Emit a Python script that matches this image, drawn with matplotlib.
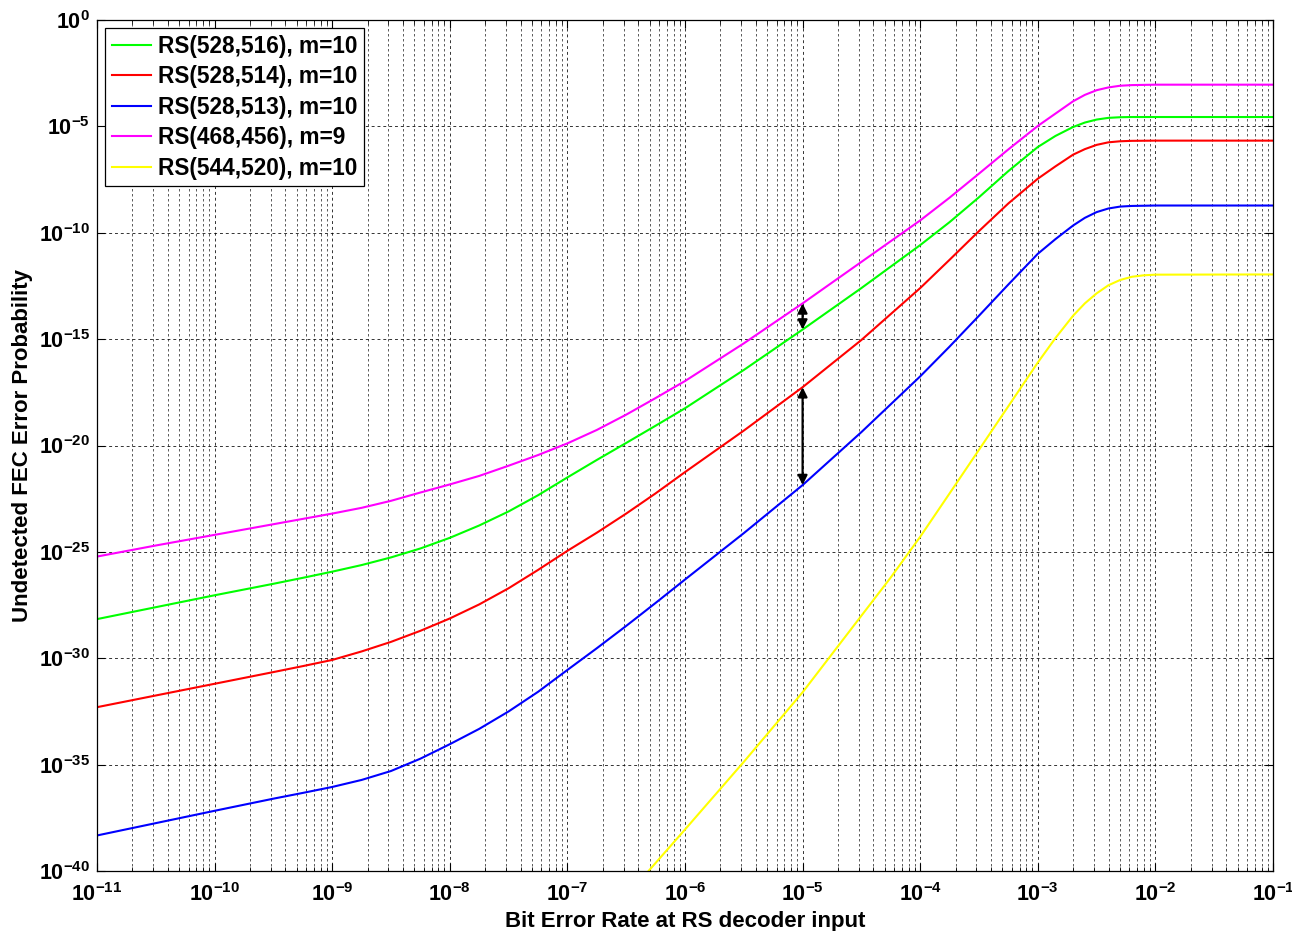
import numpy as np
import matplotlib
matplotlib.use("Agg")
import matplotlib.pyplot as plt
from matplotlib.ticker import FixedLocator, FuncFormatter, LogLocator, NullLocator

plt.rcParams['font.family'] = ['Liberation Sans', 'DejaVu Sans']
plt.rcParams['mathtext.fontset'] = 'custom'
plt.rcParams['mathtext.rm'] = 'Liberation Sans'
plt.rcParams['mathtext.bf'] = 'Liberation Sans:bold'
plt.rcParams['mathtext.it'] = 'Liberation Sans:italic'

# ---- data (log10 values) ----
labels = ["RS(528,516), m=10", "RS(528,514), m=10", "RS(528,513), m=10",
          "RS(468,456), m=9", "RS(544,520), m=10"]
colors = ["#00ff00", "#ff0000", "#0000ff", "#ff00ff", "#ffff00"]

logber_main = [-11, -10.5, -10, -9.5, -9.25, -9, -8.75, -8.5, -8.25, -8, -7.75,
               -7.5, -7.25, -7, -6.75, -6.5, -6.25, -6, -5.5, -5, -4.5, -4,
               -3.75, -3.5, -3.25, -3, -2.85, -2.7, -2.6, -2.5, -2.4, -2.3,
               -2.2, -2, -1]

green_log = [-28.16, -27.6, -27.04, -26.5, -26.22, -25.93, -25.62, -25.26, -24.84,
             -24.34, -23.76, -23.1, -22.34, -21.5, -20.68, -19.88, -19.07, -18.25,
             -16.45, -14.55, -12.6, -10.58, -9.5, -8.33, -7.1, -5.97, -5.45, -5.03,
             -4.82, -4.68, -4.6, -4.57, -4.56, -4.56, -4.56]
red_log = [-32.3, -31.75, -31.2, -30.65, -30.37, -30.08, -29.68, -29.23, -28.71,
           -28.13, -27.47, -26.71, -25.85, -24.95, -24.1, -23.2, -22.25, -21.25,
           -19.3, -17.26, -15.04, -12.6, -11.27, -9.92, -8.62, -7.46, -6.88, -6.33,
           -6.07, -5.87, -5.75, -5.7, -5.68, -5.67, -5.67]
blue_log = [-38.33, -37.75, -37.17, -36.6, -36.33, -36.05, -35.72, -35.30, -34.72,
            -34.04, -33.32, -32.50, -31.58, -30.55, -29.53, -28.48, -27.4, -26.3,
            -24.12, -21.86, -19.37, -16.75, -15.35, -13.9, -12.43, -10.99, -10.3,
            -9.66, -9.3, -9.03, -8.86, -8.77, -8.74, -8.72, -8.72]
magenta_log = [-25.22, -24.7, -24.2, -23.7, -23.45, -23.2, -22.93, -22.6, -22.21,
               -21.83, -21.43, -20.95, -20.45, -19.9, -19.27, -18.55, -17.77, -16.97,
               -15.2, -13.32, -11.37, -9.42, -8.35, -7.22, -6.08, -4.98, -4.4, -3.82,
               -3.52, -3.3, -3.17, -3.09, -3.06, -3.04, -3.04]

logber_yellow = [-6.31, -6, -5.5, -5, -4.5, -4.25, -4, -3.75, -3.5, -3.25, -3,
                 -2.85, -2.7, -2.6, -2.5, -2.4, -2.3, -2.2, -2.1, -2, -1]
yellow_log = [-40.0, -38.05, -34.87, -31.6, -28.0, -26.2, -24.29, -22.25, -20.2,
              -18.15, -16.1, -14.95, -13.9, -13.32, -12.85, -12.47, -12.22, -12.07,
              -12.0, -11.97, -11.96]

arrow_ber_log = -5  # position of the two double arrows

series = [(logber_main, green_log), (logber_main, red_log), (logber_main, blue_log),
          (logber_main, magenta_log), (logber_yellow, yellow_log)]

# ---- figure ----
fig = plt.figure(figsize=(12.92, 9.31), dpi=100)
ax = fig.add_axes([97/1292, 1 - 871/931, (1273-97)/1292, (871-20)/931])

for (xs, ys), c, lab in zip(series, colors, labels):
    ax.plot(10.0**np.array(xs), 10.0**np.array(ys), color=c, lw=1.5, label=lab,
            solid_joinstyle='round')

ax.set_xscale('log')
ax.set_yscale('log')
ax.set_xlim(1e-11, 1e-1)
ax.set_ylim(1e-40, 1e0)

ax.xaxis.set_major_locator(FixedLocator([10.0**k for k in range(-11, 0)]))
ax.xaxis.set_minor_locator(LogLocator(base=10, subs=np.arange(2, 10), numticks=100))
ax.yaxis.set_major_locator(FixedLocator([10.0**k for k in range(-40, 1, 5)]))
ax.yaxis.set_minor_locator(NullLocator())

fmt = FuncFormatter(lambda v, p: r'$\mathbf{10^{%d}}$' % int(round(np.log10(v))))
ax.xaxis.set_major_formatter(fmt)
ax.yaxis.set_major_formatter(fmt)

ax.tick_params(which='both', direction='in', top=True, right=True, labelsize=15.5)
ax.tick_params(which='major', length=6, width=0.8)
ax.tick_params(which='minor', length=3, width=0.6)
ax.tick_params(axis='x', pad=9)
ax.tick_params(axis='y', pad=5)

ax.grid(True, which='major', axis='both', color='black', linestyle=(0, (3, 3)), lw=0.7, alpha=0.8)
ax.grid(True, which='minor', axis='x', color='black', linestyle=(0, (3, 3)), lw=0.6, alpha=0.75)

for s in ax.spines.values():
    s.set_linewidth(0.9)

ax.set_xlabel('Bit Error Rate at RS decoder input', fontsize=16, fontweight='bold', labelpad=3)
ax.set_ylabel('Undetected FEC Error Probability', fontsize=16, fontweight='bold', labelpad=4)

leg = ax.legend(loc='upper left', fontsize=16.3, frameon=True, fancybox=False,
                edgecolor='black', framealpha=1.0, handlelength=1.75,
                borderpad=0.3, labelspacing=0.33, handletextpad=0.3,
                borderaxespad=0.35)
leg.get_frame().set_linewidth(0.9)
for t in leg.get_texts():
    t.set_fontweight('bold')

# double arrows at BER = 1e-5, between curves
idx = logber_main.index(arrow_ber_log)
xa = 10.0**arrow_ber_log
for top, bot in [(magenta_log, green_log), (red_log, blue_log)]:
    ax.annotate('', xy=(xa, 10.0**bot[idx]), xytext=(xa, 10.0**top[idx]),
                arrowprops=dict(arrowstyle='<|-|>', color='black', lw=1.6,
                                mutation_scale=14, shrinkA=0, shrinkB=0))

fig.savefig('out.png', dpi=100)
